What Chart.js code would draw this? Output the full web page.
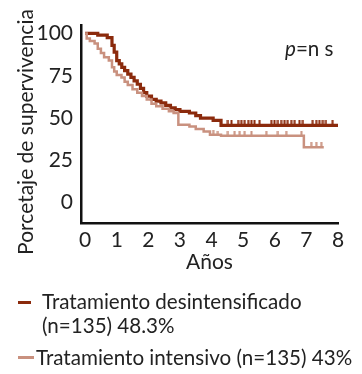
<!DOCTYPE html>
<html>
<head>
<meta charset="utf-8">
<script src="https://cdn.jsdelivr.net/npm/chart.js@4.4.0/dist/chart.umd.min.js"></script>
<style>
  html, body { margin:0; padding:0; background:#fff; }
  body { width:362px; height:374px; position:relative; overflow:hidden; font-family:Lato, sans-serif; color:#222; }
  #wrap { position:absolute; left:0; top:0; width:362px; height:280px; }
  .t { position:absolute; font-size:20.6px; white-space:nowrap; line-height:24px; }
  .dash { position:absolute; height:3px; }
  #ytitle { position:absolute; left:25px; top:132px; transform:translate(-50%,-50%) rotate(-90deg); font-size:21px; white-space:nowrap; line-height:24px; }
</style>
</head>
<body>
<div id="wrap"><canvas id="c"></canvas></div>
<div id="ytitle">Porcetaje de supervivencia</div>
<div class="t" style="left:285px; top:36px;"><i>p</i>=n s</div>
<div class="dash" style="left:18px; top:301px; width:13px; background:#8b2a0c;"></div>
<div class="t" style="left:42px; top:289px;">Tratamiento desintensificado</div>
<div class="t" style="left:42px; top:313px;">(n=135) 48.3%</div>
<div class="dash" style="left:18px; top:356px; width:16px; background:#c9917f;"></div>
<div class="t" style="left:36px; top:345px;">Tratamiento intensivo (n=135) 43%</div>
<script>
const xTicks = [0,1,2,3,4,5,6,7,8];
const yTicks = [0,25,50,75,100];

const darkTimes = [0,0.4,0.7,0.85,0.92,1.0,1.08,1.16,1.25,1.35,1.45,1.55,1.65,1.75,1.85,1.95,2.1,2.25,2.4,2.55,2.7,2.85,3.0,3.3,3.5,3.65,4.05,4.3,8.05];
const darkSurv  = [100,99,97.5,93,89,84,82,80,78,76,74,72,70,67.5,65,63,61,60,59,57.5,56,55,54,53,51.5,50,48.6,45.7,45.7];

const lightTimes = [0,0.05,0.15,0.3,0.4,0.5,0.6,0.75,0.85,0.92,1.0,1.15,1.25,1.35,1.5,1.65,1.8,1.95,2.1,2.25,2.45,2.65,2.8,2.95,3.3,3.5,3.75,3.95,4.3,6.92,7.55];
const lightSurv  = [100,97,95.5,94,91,88.5,86,84,80,77.5,75.5,74,71.5,69.5,67,65,63,61,58.5,57,55.5,54,53,46,45,43.5,42,40.2,39.6,32.7,32.7];

const darkCensorTimes = [4.52,4.63,4.84,4.94,5.05,5.16,5.26,5.36,5.52,5.89,5.99,6.1,6.2,6.31,6.41,6.52,6.63,6.78,6.89,7.2,7.31,7.41,7.52,7.62,7.83];
const darkCensorSurv  = darkCensorTimes.map(() => 45.7);
const lightCensorTimes = [4.05,4.2,4.52,4.73,4.89,5.05,5.26,5.73,6.1,6.36,6.84,7.15,7.31,7.47];
const lightCensorSurv  = [40.2,39.6,39.6,39.6,39.6,39.6,39.6,39.6,39.6,39.6,39.6,32.7,32.7,32.7];

const DARK = '#8b2a0c', LIGHT = '#c9917f';

function tickImg(color) {
  const cv = document.createElement('canvas');
  cv.width = 3; cv.height = 10;
  const g = cv.getContext('2d');
  g.fillStyle = color;
  g.fillRect(0.5, 0, 2, 5);
  return cv;
}
function pts(xs, ys) { return xs.map((x, i) => ({x, y: ys[i]})); }

const F = { family: 'Lato', size: 21 };

new Chart(document.getElementById('c'), {
  type: 'line',
  data: {
    datasets: [
      { label: 'Tratamiento intensivo', data: pts(lightTimes, lightSurv), borderColor: LIGHT, borderWidth: 2.5, stepped: true, pointRadius: 0, fill: false },
      { label: 'intensivo censurados', data: pts(lightCensorTimes, lightCensorSurv), showLine: false, pointStyle: tickImg(LIGHT), pointRadius: 5 },
      { label: 'Tratamiento desintensificado', data: pts(darkTimes, darkSurv), borderColor: DARK, borderWidth: 3.2, stepped: true, pointRadius: 0, fill: false },
      { label: 'desintensificado censurados', data: pts(darkCensorTimes, darkCensorSurv), showLine: false, pointStyle: tickImg(DARK), pointRadius: 5 }
    ]
  },
  options: {
    responsive: true,
    maintainAspectRatio: false,
    animation: false,
    events: [],
    layout: { padding: { top: 25, right: 24, left: 0, bottom: 0 } },
    plugins: { legend: { display: false }, tooltip: { enabled: false } },
    scales: {
      x: {
        type: 'linear', min: -0.13, max: 8,
        afterBuildTicks: s => { s.ticks = xTicks.map(v => ({value: v})); },
        afterFit: s => { s.height = 57; },
        grid: { display: false, drawTicks: false },
        border: { display: true, color: '#111', width: 2.5 },
        ticks: { color: '#222', font: F, padding: 5, maxRotation: 0, autoSkip: false },
        title: { display: true, text: 'Años', color: '#222', font: F, padding: { top: 0, bottom: 5 } }
      },
      y: {
        type: 'linear', min: -12, max: 105,
        afterBuildTicks: s => { s.ticks = yTicks.map(v => ({value: v})); },
        afterFit: s => { s.width = 81; },
        grid: { display: false, drawTicks: false },
        border: { display: true, color: '#111', width: 2.5 },
        ticks: { color: '#222', font: F, padding: 8, autoSkip: false }
      }
    }
  }
});
</script>
</body>
</html>
